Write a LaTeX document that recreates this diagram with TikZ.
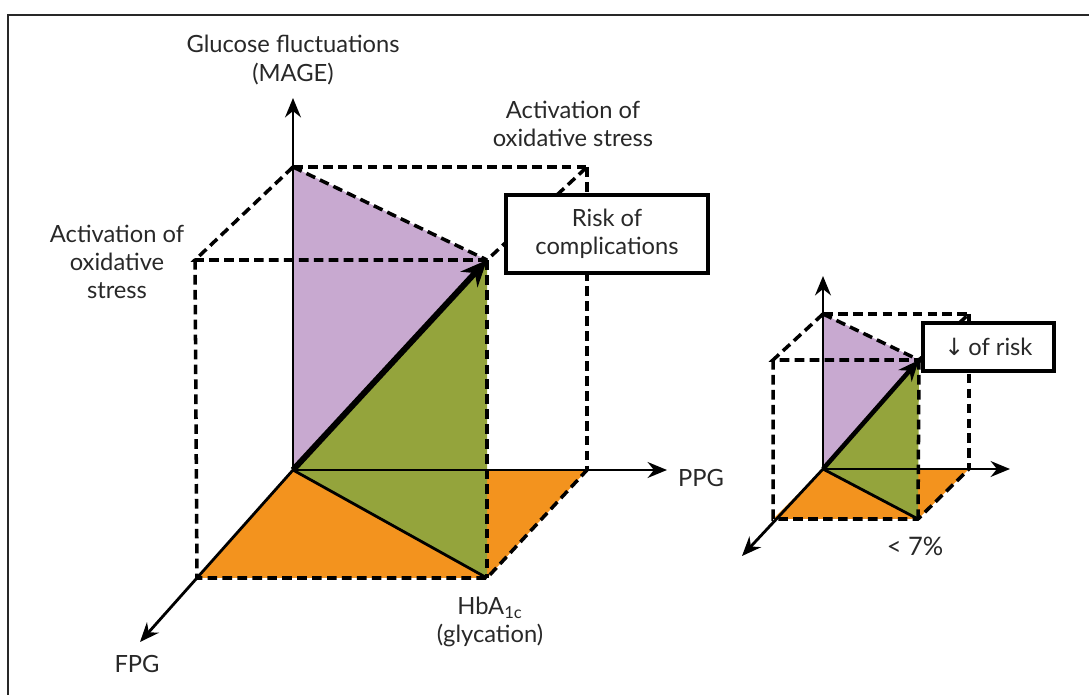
\documentclass[tikz,border=0pt]{standalone}
\usepackage{fontspec}
\setmainfont{Lato}
\newfontfamily\symfont{DejaVu Sans}
\usetikzlibrary{arrows.meta}

\definecolor{mauve}{RGB}{200,169,208}
\definecolor{olive}{RGB}{148,164,60}
\definecolor{amber}{RGB}{243,147,30}
\definecolor{ink}{RGB}{40,40,40}

\tikzset{
  axis/.style={line width=1.6pt, -{Stealth[length=11pt,width=9pt]}},
  edge/.style={line width=2pt, dash pattern=on 5.5pt off 3pt},
  riskarrow/.style={line width=3.4pt, -{Stealth[length=15pt,width=13pt]}},
  smallarrow/.style={line width=2.6pt, -{Stealth[length=12pt,width=10pt]}},
  riskbox/.style={draw, line width=2.2pt, fill=white, align=center, text=ink,
    font=\fontsize{13.5}{16}\selectfont},
  lbl/.style={align=center, text=ink, font=\fontsize{13.5}{16}\selectfont},
}

\begin{document}
\begin{tikzpicture}[x=0.02cm, y=-0.02cm]
  \useasboundingbox (0,0) rectangle (1089,695);
  % frame
  \draw[line width=0.8pt, ink] (8,695) -- (8,15) -- (1089,15);

  % big box
  \coordinate (O) at (293,470);
  \coordinate (V) at (293,167);
  \coordinate (B) at (587,167);
  \coordinate (L) at (195,260);
  \coordinate (P) at (487,260);
  \coordinate (A) at (587,470);
  \coordinate (F) at (197,578);
  \coordinate (H) at (487,578);
  \coordinate (Zt) at (293,98);
  \coordinate (Xt) at (667,470);
  \coordinate (Yt) at (140,642);

  \fill[amber] (O) -- (A) -- (H) -- (F) -- cycle;
  \fill[olive] (O) -- (P) -- (H) -- cycle;
  \fill[mauve] (O) -- (V) -- (P) -- cycle;

  \draw[edge] (V) -- (B);
  \draw[edge] (V) -- (L) -- (P) -- (B);
  \draw[edge] (V) -- (P);
  \draw[edge] (L) -- (F) -- (H) -- (A);
  \draw[edge] (P) -- (H);
  \draw[edge] (B) -- (A);

  \draw[line width=1.6pt] (O) -- (H);
  \draw[axis] (O) -- (Zt);
  \draw[axis] (O) -- (Xt);
  \draw[axis] (O) -- (Yt);
  \draw[riskarrow] (O) -- (P);

  \node[riskbox, minimum width=4.04cm, minimum height=1.56cm] (risk) at (607,234)
    {Risk of\\complications};

  \node[lbl] (mage) at (293,60) {Glucose fluctuations\\(MAGE)};
  \node[lbl] (oxtop) at (573,124) {Activation of\\oxidative stress};
  \node[lbl] (oxleft) at (117,262) {Activation of\\oxidative\\stress};
  \node[lbl, anchor=west] (ppg) at (672,478) {PPG};
  \node[lbl] (fpg) at (137,664) {FPG};
  \node[lbl] (hba) at (490,622) {HbA\textsubscript{1c}\\(glycation)};

  % small box
  \coordinate (o) at (823,469);
  \coordinate (v) at (823,314);
  \coordinate (b) at (969,314);
  \coordinate (l) at (773,360);
  \coordinate (p) at (919,360);
  \coordinate (a) at (969,469);
  \coordinate (f) at (773,519);
  \coordinate (h) at (918,519);
  \coordinate (zt) at (823,276);
  \coordinate (xt) at (1010,469);
  \coordinate (yt) at (742,556);

  \fill[amber] (o) -- (a) -- (h) -- (f) -- cycle;
  \fill[olive] (o) -- (p) -- (h) -- cycle;
  \fill[mauve] (o) -- (v) -- (p) -- cycle;

  \draw[edge] (v) -- (b);
  \draw[edge] (v) -- (l) -- (p) -- (b);
  \draw[edge] (v) -- (p);
  \draw[edge] (l) -- (f) -- (h) -- (a);
  \draw[edge] (p) -- (h);
  \draw[edge] (b) -- (a);

  \draw[line width=1.6pt] (o) -- (h);
  \draw[axis] (o) -- (zt);
  \draw[axis] (o) -- (xt);
  \draw[axis] (o) -- (yt);
  \draw[smallarrow] (o) -- (p);

  \node[riskbox, minimum width=2.62cm, minimum height=0.96cm] (lowrisk) at (988.5,347)
    {{\symfont ↓}\,of risk};
  \node[lbl, font=\fontsize{14.5}{17}\selectfont] (seven) at (915,546) {< 7\%};
\end{tikzpicture}
\end{document}
